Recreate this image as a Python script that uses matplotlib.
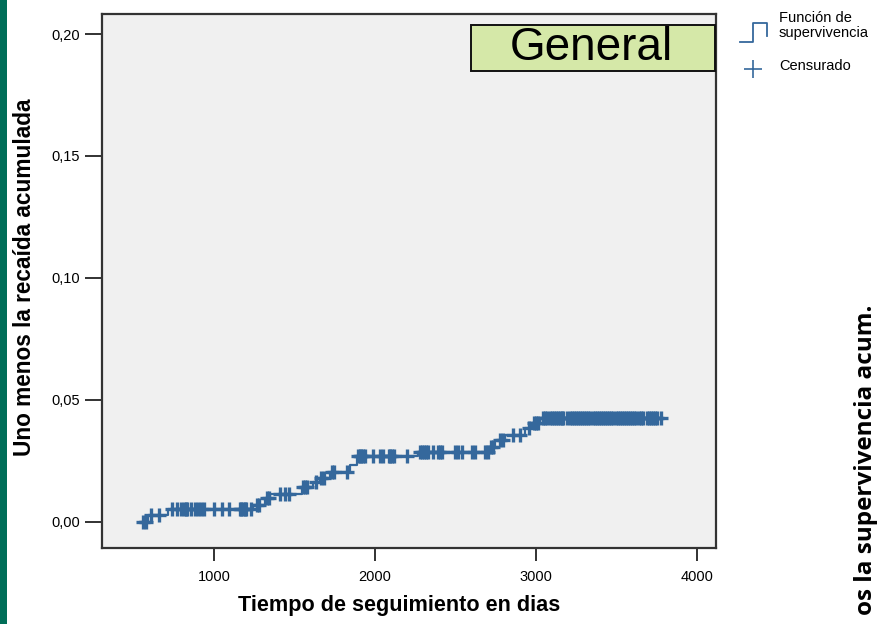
import numpy as np
import matplotlib
matplotlib.use("Agg")
import matplotlib.pyplot as plt
from matplotlib.lines import Line2D
from matplotlib.patches import Rectangle
from matplotlib.ticker import FuncFormatter

# step times (days) and cumulative relapse after each step
event_days = [590, 715, 1242, 1317, 1348, 1547, 1615, 1658, 1720, 1845, 1888,
              2267, 2714, 2745, 2807, 2932, 2975, 3025]
event_cum = [0.003, 0.0053, 0.0070, 0.0098, 0.0115, 0.0143, 0.0164, 0.018,
             0.0205, 0.0234, 0.027, 0.0285, 0.0307, 0.0336, 0.0357, 0.0385,
             0.0405, 0.0425]

# censored follow-up times (days)
censored_days = [
    560, 578, 610, 660,
    740, 770, 795, 815, 825, 835, 855, 880, 900, 920, 940, 1000, 1050, 1095,
    1160, 1170, 1180, 1190, 1200, 1230,
    1265, 1280, 1332, 1342, 1410, 1441, 1466,
    1555, 1565, 1575, 1635, 1665, 1680, 1730, 1745, 1825,
    1895, 1905, 1915, 1925, 1940, 1990, 2030, 2050, 2085, 2095, 2105, 2115, 2200,
    2280, 2292, 2304, 2316, 2328, 2360, 2390, 2402, 2414, 2495, 2515, 2540,
    2600, 2620, 2680, 2700, 2722, 2734, 2775, 2795, 2857, 2900, 2955,
    2988, 3000, 3012,
    3045, 3058, 3071, 3084, 3097, 3110, 3123, 3136, 3149, 3162, 3170,
    3195, 3208, 3221, 3234, 3247, 3260, 3273, 3286, 3299, 3312, 3325, 3338,
    3351, 3364, 3377, 3390, 3403, 3416, 3429, 3442, 3455, 3468, 3481, 3494,
    3507, 3520, 3533, 3546, 3559, 3572, 3585, 3598, 3611, 3624, 3637, 3650,
    3663,
    3690, 3703, 3716, 3729, 3742, 3752, 3775,
]

y_ticks = [0.00, 0.05, 0.10, 0.15, 0.20]
x_ticks = [1000, 2000, 3000, 4000]

blue = "#35689c"
sans = ["Liberation Sans", "DejaVu Sans"]

fig = plt.figure(figsize=(8.81, 6.24), dpi=100)
fig.patch.set_facecolor("white")
ax = fig.add_axes([102 / 881, 1 - 548 / 624, 614 / 881, 534 / 624])
ax.set_facecolor("#f0f0f0")

# build step curve
t_start = 540
end_day = max(censored_days)
xs = [t_start] + event_days + [end_day]
ys = [0.0] + event_cum + [event_cum[-1]]
ax.step(xs, ys, where="post", color=blue, lw=1.6)

cens = np.array(censored_days)
idx = np.searchsorted(np.array(event_days), cens, side="right")
cum_levels = np.array([0.0] + event_cum)
ax.plot(cens, cum_levels[idx], ls="none", marker="+", ms=10, mew=2.4, color=blue)

ax.set_xlim(304, 4118)
ax.set_ylim(-0.0107, 0.2082)
ax.set_xticks(x_ticks)
ax.set_yticks(y_ticks)
ax.yaxis.set_major_formatter(FuncFormatter(lambda v, p: f"{v:.2f}".replace(".", ",")))
ax.tick_params(axis="y", direction="out", length=12, width=1.3, color="#222222",
               labelsize=10.5, pad=4)
ax.tick_params(axis="x", direction="out", length=9, width=1.3, color="#222222",
               labelsize=10.5, pad=7)
for lab in ax.get_xticklabels() + ax.get_yticklabels():
    lab.set_family(sans)
for sp in ax.spines.values():
    sp.set_color("#333333")
    sp.set_linewidth(1.6)

ax.set_xlabel("Tiempo de seguimiento en dias", fontsize=15.6, fontweight="bold",
              family=sans)
ax.xaxis.set_label_coords((399 - 102) / 614, (548 - 605) / 534)
ax.xaxis.label.set_va("center")
ax.set_ylabel("Uno menos la recaída acumulada", fontsize=16.3, fontweight="bold",
              family=sans)
ax.yaxis.set_label_coords((25 - 102) / 614, (548 - 277) / 534)
ax.yaxis.label.set_va("center")

# title box
ax.add_patch(Rectangle(((471 - 102) / 614, (548 - 71) / 534), 244 / 614, 46 / 534,
                       transform=ax.transAxes, facecolor="#d5e8a8",
                       edgecolor="#111111", lw=1.4, zorder=3))
ax.text((591 - 102) / 614, (548 - 48) / 534, "General", transform=ax.transAxes,
        fontsize=33, family=sans, va="center", ha="center", zorder=4)

# green strip on the left edge
fig.add_artist(Rectangle((0, 0), 7 / 881, 1, transform=fig.transFigure,
                         facecolor="#006e58", edgecolor="none"))

# legend drawn beside the plot
def fx(px):
    return px / 881

def fy(py):
    return 1 - py / 624

fig.add_artist(Line2D([fx(740), fx(753), fx(753), fx(767), fx(767)],
                      [fy(42), fy(42), fy(23), fy(23), fy(36)],
                      transform=fig.transFigure, color=blue, lw=1.3))
fig.text(fx(779), fy(11), "Función de\nsupervivencia", fontsize=10.5,
         family=sans, va="top", ha="left", linespacing=1.05)
fig.add_artist(Line2D([fx(753)], [fy(69)], transform=fig.transFigure,
                      marker="+", ms=13, mew=1.2, color=blue))
fig.text(fx(779), fy(66), "Censurado", fontsize=10.5, family=sans,
         va="center", ha="left")

# visible part of a label from a neighbouring chart
fig.text(fx(866), fy(305), "os la supervivencia acum.", rotation=90,
         fontsize=17.5, fontweight="bold", family=["Open Sans", "DejaVu Sans"],
         ha="center", va="top")

fig.savefig("out.png", dpi=100)
